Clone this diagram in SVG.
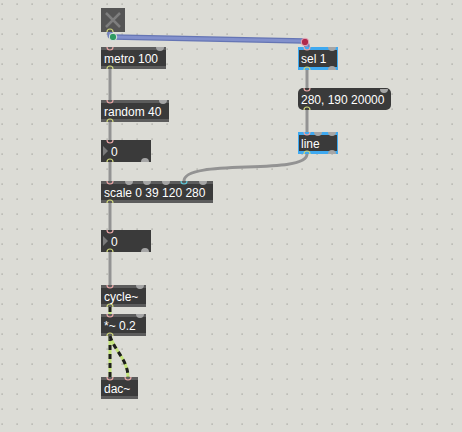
<svg xmlns="http://www.w3.org/2000/svg" width="462" height="432" viewBox="0 0 462 432">
<defs>
<pattern id="grid" x="0" y="0" width="15" height="15" patternUnits="userSpaceOnUse">
<rect x="1.5" y="3.5" width="1.2" height="1.2" fill="#9d9d98"/>
</pattern>
<style>
.body{fill:#3a3a3a}
.bar{fill:#5c5c5c}
.sel{fill:#3fa9f0}
.txt{font-family:"Liberation Sans",Arial,sans-serif;font-size:12px;fill:#ffffff}
.cord{fill:none;stroke:#939393;stroke-width:3;stroke-linecap:round}
.sigA{fill:none;stroke:#c4e47a;stroke-width:3}
.sigB{fill:none;stroke:#1e1e1e;stroke-width:3;stroke-dasharray:5 4}
.in{fill:none;stroke:#e6a4a4;stroke-width:1.2}
.out{fill:none;stroke:#cfd67a;stroke-width:1.2}
.cin{fill:#a6a6a6}
.tri{fill:#7a7a7a}
</style>
</defs>
<rect x="0" y="0" width="462" height="432" fill="#dcdcd6"/>
<rect x="0" y="0" width="462" height="432" fill="url(#grid)"/>

<g id="connectors">
<path class="cord" d="M110,69 L110,100"/>
<path class="cord" d="M110,122 L110,140"/>
<path class="cord" d="M110,162 L110,181"/>
<path class="cord" d="M110,203 L110,230"/>
<path class="cord" d="M110,252 L110,285"/>
<path class="cord" d="M307,70 L307,88"/>
<path class="cord" d="M307,110 L307,132"/>
<path class="cord" d="M307,154 C307,176 184,158 184,181"/>
<path class="sigA" d="M110,307 L110,314"/>
<path class="sigB" d="M110,307 L110,314"/>
<path class="sigA" d="M110,336 L110,377"/>
<path class="sigB" d="M110,336 L110,377"/>
<path class="sigA" d="M110,336 C114,350 128,360 128,377"/>
<path class="sigB" d="M110,336 C114,350 128,360 128,377"/>
<path d="M110,32 L110,34 Q110,37 113,37 L304,41 Q307,42 307,48" fill="none" stroke="#6575b4" stroke-width="5.5"/>
<path d="M110,32 L110,34 Q110,37 113,37 L304,41 Q307,42 307,48" fill="none" stroke="#8290cc" stroke-width="3"/>
<circle cx="113" cy="37" r="3.8" fill="#2f9a62" stroke="#e6e6e6" stroke-width="1"/>
<circle cx="305" cy="42" r="3.8" fill="#b0294b" stroke="#e6b0c0" stroke-width="1"/>
</g>

<g id="toggle">
<rect x="101" y="8" width="24" height="24" fill="#555555"/>
<path d="M106,13 L120,27 M120,13 L106,27" stroke="#7e7e7e" stroke-width="2.5"/>
<path class="out" d="M107,32 A3,3 0 0 1 113,32"/>
</g>

<g id="metro">
<rect class="body" x="101" y="47" width="65" height="22"/>
<rect class="bar" x="101" y="47" width="65" height="3"/>
<rect class="bar" x="101" y="66" width="65" height="3"/>
<path class="in" d="M107,47 A3,3 0 0 0 113,47"/>
<path class="cin" d="M156,47 A4,4 0 0 0 164,47 Z"/>
<path class="out" d="M107,69 A3,3 0 0 1 113,69"/>
<text class="txt" x="104" y="62.5">metro 100</text>
</g>

<g id="sel">
<rect class="sel" x="298" y="47" width="40" height="23"/>
<rect class="body" x="299" y="50" width="38" height="17"/>
<path class="in" d="M304,47 A3,3 0 0 0 310,47"/>
<path class="cin" d="M328,47 A4,4 0 0 0 336,47 Z"/>
<path class="out" d="M304,70 A3,3 0 0 1 310,70"/>
<path class="cin" d="M328,70 A4,4 0 0 1 336,70 Z"/>
<text class="txt" x="301" y="63">sel 1</text>
</g>

<g id="random">
<rect class="body" x="101" y="100" width="68" height="22"/>
<rect class="bar" x="101" y="100" width="68" height="3"/>
<rect class="bar" x="101" y="119" width="68" height="3"/>
<path class="in" d="M107,100 A3,3 0 0 0 113,100"/>
<path class="cin" d="M159,100 A4,4 0 0 0 167,100 Z"/>
<path class="out" d="M107,122 A3,3 0 0 1 113,122"/>
<text class="txt" x="104" y="115.5">random 40</text>
</g>

<g id="message">
<rect x="298" y="88" width="93" height="22" rx="5" fill="#3a3a3a"/>
<path class="in" d="M304,88 A3,3 0 0 0 310,88"/>
<path class="cin" d="M380,89 A4,4 0 0 0 388,89 Z"/>
<path class="out" d="M304,110 A3,3 0 0 1 310,110"/>
<text class="txt" x="301" y="103.5">280, 190 20000</text>
</g>

<g id="number1">
<rect class="body" x="101" y="140" width="50" height="22"/>
<path class="tri" d="M103,146 L108,151 L103,156 Z"/>
<path class="in" d="M107,140 A3,3 0 0 0 113,140"/>
<path class="out" d="M107,162 A3,3 0 0 1 113,162"/>
<path class="cin" d="M141,162 A4,4 0 0 1 149,162 Z"/>
<text class="txt" x="111" y="155.5">0</text>
</g>

<g id="line">
<rect class="sel" x="298" y="132" width="40" height="22"/>
<rect class="body" x="299" y="135" width="38" height="16"/>
<path class="in" d="M304,132 A3,3 0 0 0 310,132"/>
<path class="cin" d="M314,132 A4,4 0 0 0 322,132 Z"/>
<path class="cin" d="M328,132 A4,4 0 0 0 336,132 Z"/>
<path class="out" d="M304,154 A3,3 0 0 1 310,154"/>
<path class="cin" d="M328,154 A4,4 0 0 1 336,154 Z"/>
<text class="txt" x="301" y="147.5">line</text>
</g>

<g id="scale">
<rect class="body" x="101" y="181" width="112" height="22"/>
<rect class="bar" x="101" y="181" width="112" height="3"/>
<rect class="bar" x="101" y="200" width="112" height="3"/>
<path class="in" d="M107,181 A3,3 0 0 0 113,181"/>
<path class="cin" d="M125,181 A4,4 0 0 0 133,181 Z"/>
<path class="cin" d="M143,181 A4,4 0 0 0 151,181 Z"/>
<path class="cin" d="M162,181 A4,4 0 0 0 170,181 Z"/>
<path d="M181,181 A3,3 0 0 0 187,181" fill="none" stroke="#5fc8d8" stroke-width="1.2"/>
<path class="cin" d="M199,181 A4,4 0 0 0 207,181 Z"/>
<path class="out" d="M107,203 A3,3 0 0 1 113,203"/>
<text class="txt" x="104" y="196.5">scale 0 39 120 280</text>
</g>

<g id="number2">
<rect class="body" x="101" y="230" width="50" height="22"/>
<path class="tri" d="M103,236 L108,241 L103,246 Z"/>
<path class="in" d="M107,230 A3,3 0 0 0 113,230"/>
<path class="out" d="M107,252 A3,3 0 0 1 113,252"/>
<path class="cin" d="M141,252 A4,4 0 0 1 149,252 Z"/>
<text class="txt" x="111" y="245.5">0</text>
</g>

<g id="cycle">
<rect class="body" x="101" y="285" width="45" height="22"/>
<rect class="bar" x="101" y="285" width="45" height="3"/>
<rect class="bar" x="101" y="304" width="45" height="3"/>
<path class="in" d="M107,285 A3,3 0 0 0 113,285"/>
<path class="cin" d="M136,285 A4,4 0 0 0 144,285 Z"/>
<path class="out" d="M107,307 A3,3 0 0 1 113,307"/>
<text class="txt" x="104" y="300.5">cycle~</text>
</g>

<g id="mult">
<rect class="body" x="101" y="314" width="45" height="22"/>
<rect class="bar" x="101" y="314" width="45" height="3"/>
<rect class="bar" x="101" y="333" width="45" height="3"/>
<path class="in" d="M107,314 A3,3 0 0 0 113,314"/>
<path class="cin" d="M136,314 A4,4 0 0 0 144,314 Z"/>
<path class="out" d="M107,336 A3,3 0 0 1 113,336"/>
<text class="txt" x="104" y="329.5">*~ 0.2</text>
</g>

<g id="dac">
<rect class="body" x="101" y="377" width="37" height="22"/>
<rect class="bar" x="101" y="377" width="37" height="3"/>
<rect class="bar" x="101" y="396" width="37" height="3"/>
<path class="in" d="M107,377 A3,3 0 0 0 113,377"/>
<path class="in" d="M125,377 A3,3 0 0 0 131,377"/>
<text class="txt" x="104" y="392.5">dac~</text>
</g>
</svg>
